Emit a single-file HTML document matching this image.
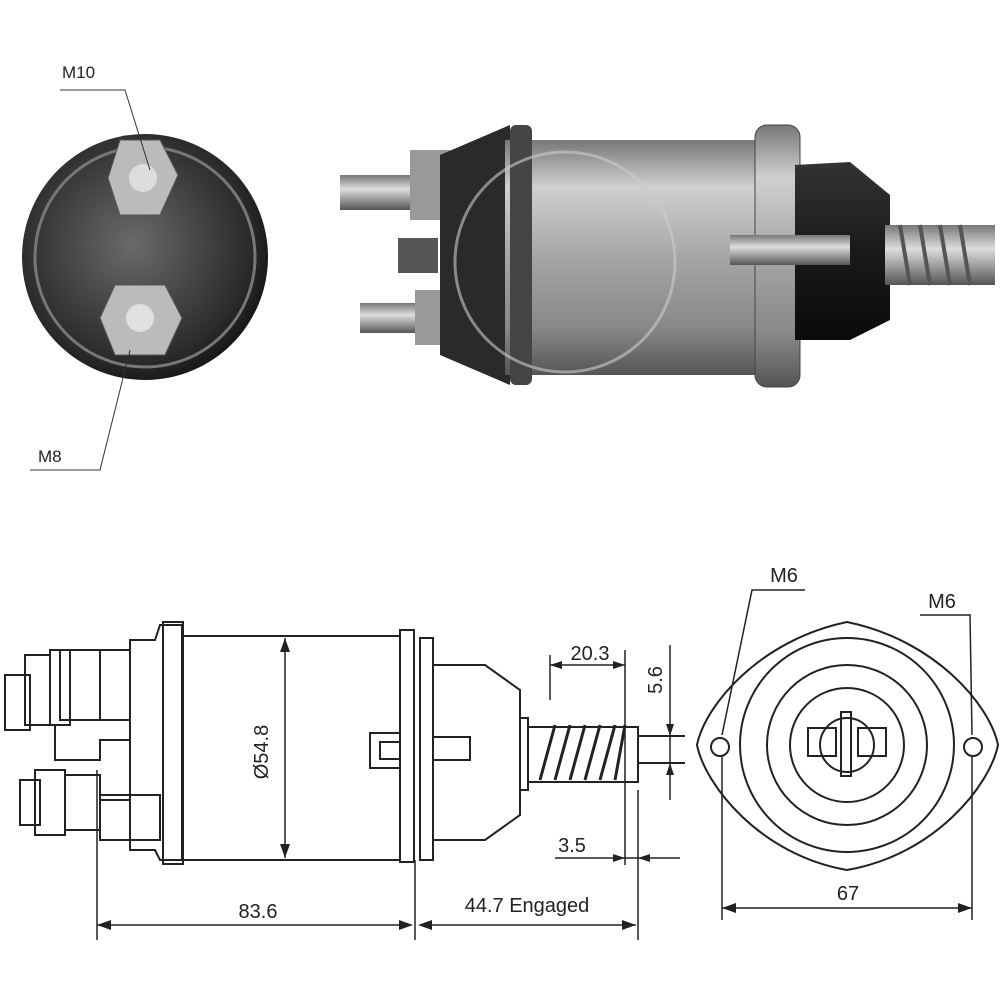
<!DOCTYPE html>
<html><head><style>body{margin:0;background:#fff}svg{display:block}text{font-family:"Liberation Sans",sans-serif;fill:#222}</style></head><body>
<svg width="1000" height="1000" viewBox="0 0 1000 1000">
<defs>
<radialGradient id="rg" cx="0.45" cy="0.45" r="0.6"><stop offset="0" stop-color="#6a6a6a"/><stop offset="0.8" stop-color="#2a2a2a"/><stop offset="1" stop-color="#111"/></radialGradient>
<linearGradient id="cyl" x1="0" y1="0" x2="0" y2="1"><stop offset="0" stop-color="#777"/><stop offset="0.2" stop-color="#d0d0d0"/><stop offset="0.5" stop-color="#a5a5a5"/><stop offset="0.8" stop-color="#888"/><stop offset="1" stop-color="#555"/></linearGradient>
<linearGradient id="blk" x1="0" y1="0" x2="0" y2="1"><stop offset="0" stop-color="#333"/><stop offset="0.5" stop-color="#1a1a1a"/><stop offset="1" stop-color="#0a0a0a"/></linearGradient>
<linearGradient id="st" x1="0" y1="0" x2="0" y2="1"><stop offset="0" stop-color="#777"/><stop offset="0.4" stop-color="#ddd"/><stop offset="1" stop-color="#555"/></linearGradient>
</defs>
<circle cx="145" cy="257" r="123" fill="url(#rg)"/>
<circle cx="145" cy="257" r="110" fill="none" stroke="#777" stroke-width="3"/>
<polygon points="120,140 160,140 178,175 160,215 120,215 108,178" fill="#bbb" stroke="#555"/>
<circle cx="143" cy="178" r="14" fill="#ddd"/>
<polygon points="115,285 165,285 182,318 165,355 115,355 100,318" fill="#bbb" stroke="#555"/>
<circle cx="140" cy="318" r="14" fill="#e0e0e0"/>
<text x="62" y="78" font-size="17">M10</text>
<path d="M60 90 H125 L150 170" stroke="#333" fill="none"/>
<text x="38" y="462" font-size="17">M8</text>
<path d="M30 470 H100 L130 350" stroke="#333" fill="none"/>
<rect x="340" y="175" width="80" height="35" fill="url(#st)"/>
<rect x="360" y="303" width="65" height="30" fill="url(#st)"/>
<rect x="398" y="238" width="40" height="35" fill="#555"/>
<rect x="410" y="150" width="40" height="70" fill="#999"/>
<rect x="415" y="290" width="40" height="55" fill="#999"/>
<path d="M440 155 L510 125 L510 385 L440 355 Z" fill="#2a2a2a"/>
<rect x="505" y="140" width="265" height="235" fill="url(#cyl)"/>
<rect x="510" y="125" width="22" height="260" rx="6" fill="#444"/>
<rect x="755" y="125" width="45" height="262" rx="12" fill="url(#cyl)" stroke="#444"/>
<path d="M795 165 L850 162 L890 195 L890 320 L850 340 L795 340 Z" fill="url(#blk)"/>
<rect x="730" y="235" width="120" height="30" fill="url(#st)"/>
<rect x="885" y="225" width="110" height="60" fill="url(#st)"/>
<g stroke="#555" stroke-width="4"><line x1="900" y1="225" x2="910" y2="285"/><line x1="920" y1="225" x2="930" y2="285"/><line x1="940" y1="225" x2="950" y2="285"/><line x1="960" y1="225" x2="970" y2="285"/></g>
<circle cx="565" cy="262" r="110" fill="none" stroke="#ccc" stroke-width="3" opacity="0.6"/>
<g stroke="#222" stroke-width="2" fill="none">
<rect x="5" y="675" width="25" height="55"/>
<rect x="25" y="655" width="25" height="70"/>
<rect x="50" y="650" width="20" height="75"/>
<rect x="60" y="650" width="40" height="70"/>
<rect x="100" y="650" width="30" height="70"/>
<rect x="20" y="780" width="20" height="45"/>
<rect x="35" y="770" width="30" height="65"/>
<rect x="65" y="775" width="35" height="55"/>
<path d="M130 650 V640 H155 L160 625 H182 V860 H160 L155 850 H130 Z"/>
<path d="M55 725 V760 H100 V740 H130 V800 H100 V790"/>
<rect x="100" y="795" width="60" height="45"/>
<rect x="163" y="622" width="20" height="242"/>
<rect x="182" y="636" width="218" height="224"/>
<rect x="400" y="630" width="14" height="232"/>
<rect x="420" y="638" width="13" height="222"/>
<path d="M433 665 H485 L520 690 V815 L485 840 H433"/>
<rect x="433" y="737" width="37" height="23"/>
<rect x="370" y="733" width="30" height="35"/>
<rect x="380" y="742" width="20" height="17"/>
<rect x="520" y="718" width="8" height="72"/>
<rect x="528" y="727" width="110" height="55"/>
<path d="M540 780 L555 725 M555 780 L570 725 M570 780 L585 725 M585 780 L600 725 M600 780 L615 725 M615 780 L625 725" stroke-width="3"/>
<line x1="638" y1="736" x2="685" y2="736"/><line x1="638" y1="763" x2="685" y2="763"/>
</g>
<g stroke="#222" stroke-width="1.5" fill="none">
<line x1="285" y1="638" x2="285" y2="858"/>
<line x1="97" y1="770" x2="97" y2="940"/>
<line x1="415" y1="860" x2="415" y2="940"/>
<line x1="638" y1="790" x2="638" y2="940"/>
<line x1="97" y1="925" x2="410" y2="925"/>
<line x1="420" y1="925" x2="636" y2="925"/>
<line x1="550" y1="655" x2="550" y2="700"/>
<line x1="625" y1="650" x2="625" y2="865"/>
<line x1="550" y1="665" x2="625" y2="665"/>
<line x1="670" y1="645" x2="670" y2="800"/>
<line x1="555" y1="858" x2="680" y2="858"/>
</g>
<g fill="#222">
<path d="M285 638 l-5 14 h10z M285 858 l-5 -14 h10z"/>
<path d="M97 925 l14 -5 v10z M413 925 l-14 -5 v10z M418 925 l14 -5 v10z M636 925 l-14 -5 v10z"/>
<path d="M550 665 l12 -4 v8z M625 665 l-12 -4 v8z"/>
<path d="M670 736 l-4 -12 h8z M670 763 l4 12 h-8z"/>
<path d="M625 858 l-12 -4 v8z M638 858 l12 -4 v8z"/>
</g>
<text x="268" y="752" font-size="20" text-anchor="middle" transform="rotate(-90 268 752)">Ø54.8</text>
<text x="258" y="918" font-size="20" text-anchor="middle">83.6</text>
<text x="527" y="912" font-size="20" text-anchor="middle">44.7 Engaged</text>
<text x="590" y="660" font-size="20" text-anchor="middle">20.3</text>
<text x="662" y="680" font-size="20" text-anchor="middle" transform="rotate(-90 662 680)">5.6</text>
<text x="572" y="852" font-size="20" text-anchor="middle">3.5</text>
<g stroke="#222" stroke-width="2" fill="none">
<path d="M697 745 C705 705 760 640 847 622 C935 640 990 705 998 745 C990 785 935 855 847 870 C760 855 705 785 697 745 Z"/>
<circle cx="847" cy="745" r="107"/>
<circle cx="847" cy="745" r="80"/>
<circle cx="847" cy="745" r="57"/>
<circle cx="847" cy="745" r="27"/>
<rect x="808" y="728" width="28" height="28"/>
<rect x="858" y="728" width="28" height="28"/>
<rect x="841" y="712" width="10" height="64"/>
<circle cx="720" cy="747" r="9"/>
<circle cx="973" cy="747" r="9"/>
</g>
<g stroke="#222" stroke-width="1.5" fill="none">
<path d="M805 590 H752 L722 735"/>
<path d="M920 615 H970 L972 735"/>
<line x1="722" y1="755" x2="722" y2="920"/>
<line x1="972" y1="755" x2="972" y2="920"/>
<line x1="722" y1="908" x2="972" y2="908"/>
</g>
<path d="M722 908 l14 -5 v10z M972 908 l-14 -5 v10z" fill="#222"/>
<text x="784" y="582" font-size="20" text-anchor="middle">M6</text>
<text x="942" y="608" font-size="20" text-anchor="middle">M6</text>
<text x="848" y="900" font-size="20" text-anchor="middle">67</text>
</svg>
</body></html>
